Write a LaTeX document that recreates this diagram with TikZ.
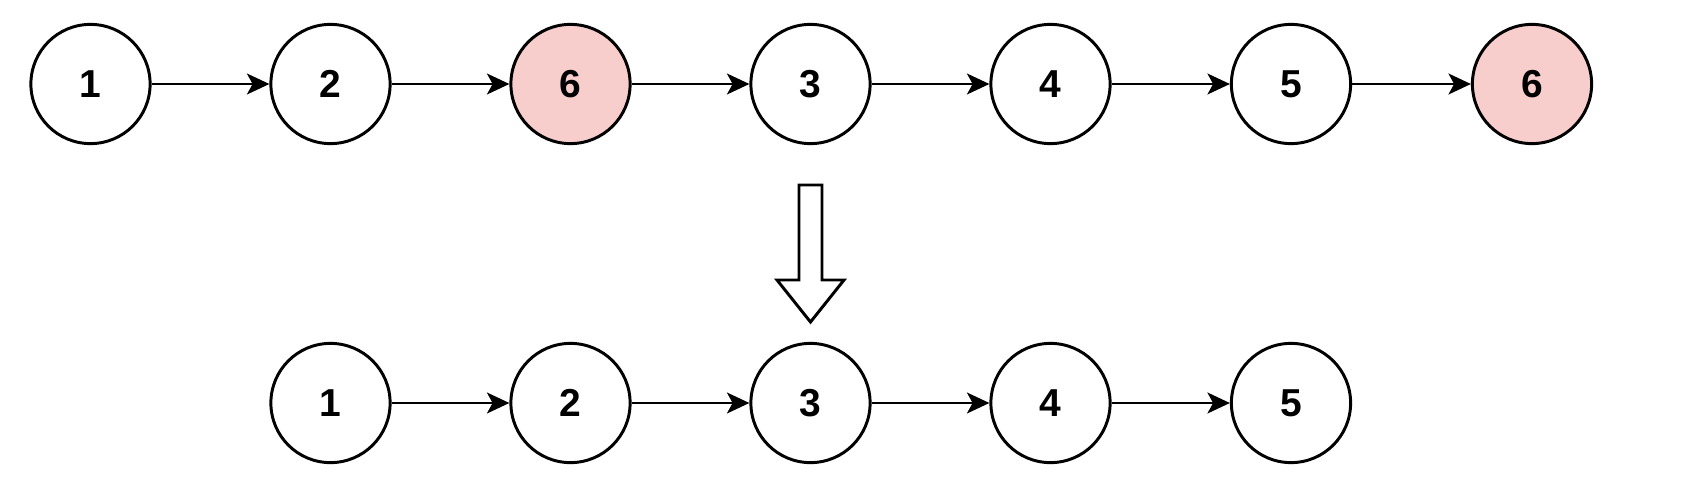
\documentclass[tikz,border=0pt]{standalone}
\usepackage{fontspec}
\setmainfont{Liberation Sans}
\usetikzlibrary{arrows.meta}

\definecolor{removed}{HTML}{F8CECC}

\tikzset{
	item/.style={circle, draw, line width=2.1pt, minimum size=2.98cm, inner sep=0pt,
		font=\bfseries\fontsize{27.7}{30}\selectfont},
	gone/.style={item, fill=removed},
	link/.style={line width=2.1pt, -{Stealth[length=0.56cm, width=0.52cm, inset=0.14cm]}}
}

\begin{document}
\begin{tikzpicture}[x=0.025cm, y=0.025cm]

	\useasboundingbox (0,0) rectangle (1701,489);
	\clip (0,25) rectangle (1701,489);

	% list before
	\node[item] (a1) at (90.5,405) {1};
	\node[item] (a2) at (330.5,405) {2};
	\node[gone] (a3) at (570.5,405) {6};
	\node[item] (a4) at (810.5,405) {3};
	\node[item] (a5) at (1050.5,405) {4};
	\node[item] (a6) at (1291,405) {5};
	\node[gone] (a7) at (1532,405) {6};

	\draw[link] (a1) -- (a2);
	\draw[link] (a2) -- (a3);
	\draw[link] (a3) -- (a4);
	\draw[link] (a4) -- (a5);
	\draw[link] (a5) -- (a6);
	\draw[link] (a6) -- (a7);

	% hollow arrow
	\draw[line width=2.1pt, line join=miter]
		(799,304) -- (822,304) -- (822,209) -- (844,209) -- (810.5,167)
		-- (777,209) -- (799,209) -- cycle;

	% list after
	\node[item] (b1) at (330.5,86) {1};
	\node[item] (b2) at (570.5,86) {2};
	\node[item] (b3) at (810.5,86) {3};
	\node[item] (b4) at (1050.5,86) {4};
	\node[item] (b5) at (1291,86) {5};

	\draw[link] (b1) -- (b2);
	\draw[link] (b2) -- (b3);
	\draw[link] (b3) -- (b4);
	\draw[link] (b4) -- (b5);

\end{tikzpicture}
\end{document}
